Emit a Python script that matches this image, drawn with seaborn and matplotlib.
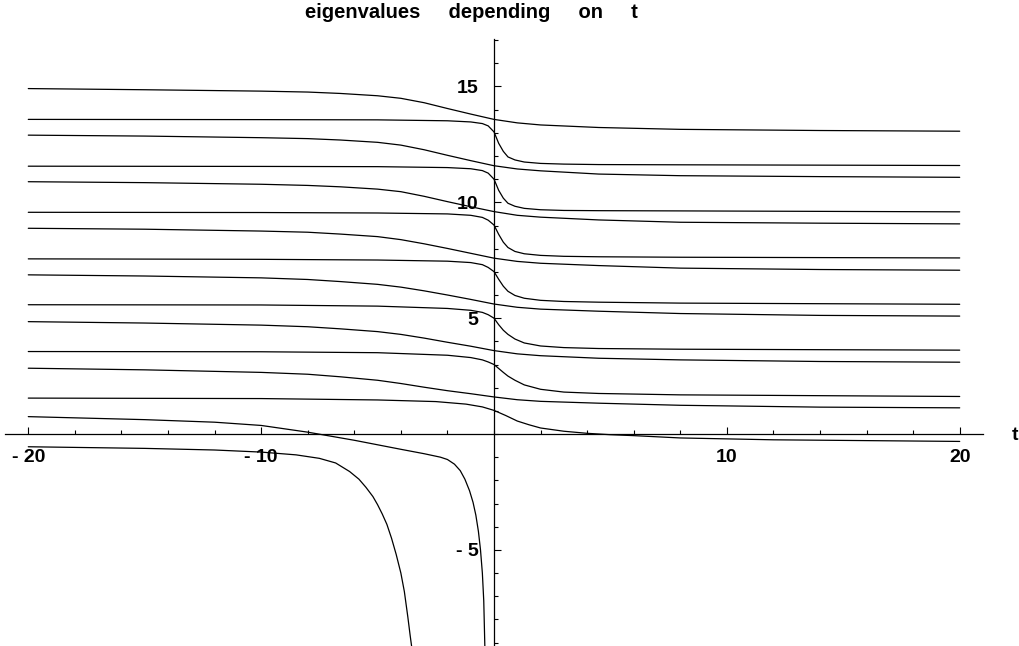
import numpy as np
import pandas as pd
import matplotlib
matplotlib.use("Agg")
import matplotlib.pyplot as plt
import seaborn as sns

# --- values ---
# slowly falling curves (broad step around t = -4 .. 0)
t_slow = [-20, -15, -10, -8, -6.6, -5, -4, -3, -2, -1, 0, 1, 2, 4.5, 8, 14, 20]
slow_a = [14.91, 14.86, 14.80, 14.76, 14.70, 14.60, 14.49, 14.30, 14.05, 13.81, 13.58, 13.43, 13.34, 13.23, 13.15, 13.10, 13.07]
slow_c = [12.90, 12.86, 12.79, 12.75, 12.69, 12.59, 12.47, 12.27, 12.03, 11.80, 11.58, 11.44, 11.36, 11.22, 11.15, 11.11, 11.08]
slow_e = [10.89, 10.85, 10.78, 10.73, 10.67, 10.57, 10.46, 10.26, 10.03, 9.81, 9.60, 9.44, 9.36, 9.24, 9.14, 9.10, 9.07]
slow_g = [8.88, 8.84, 8.76, 8.71, 8.63, 8.52, 8.39, 8.21, 8.01, 7.80, 7.59, 7.45, 7.37, 7.27, 7.16, 7.10, 7.07]
slow_i = [6.87, 6.82, 6.74, 6.67, 6.58, 6.46, 6.34, 6.18, 6.00, 5.81, 5.61, 5.47, 5.39, 5.30, 5.20, 5.12, 5.09]
slow_k = [4.85, 4.79, 4.70, 4.63, 4.54, 4.42, 4.30, 4.14, 3.96, 3.79, 3.60, 3.46, 3.38, 3.27, 3.20, 3.13, 3.10]
slow_m = [2.84, 2.77, 2.66, 2.58, 2.47, 2.32, 2.18, 2.02, 1.87, 1.74, 1.60, 1.48, 1.41, 1.33, 1.24, 1.16, 1.13]

# curves with a sharp drop just after t = 0
t_fast = [-20, -10, -5, -2, -1, -0.5, -0.25, 0, 0.2, 0.4, 0.6, 0.9, 1.3, 2, 3, 4.5, 8, 20]
fast_b = [13.58, 13.57, 13.56, 13.52, 13.47, 13.40, 13.30, 13.04, 12.55, 12.20, 11.96, 11.83, 11.74, 11.68, 11.65, 11.63, 11.62, 11.59]
fast_d = [11.56, 11.55, 11.54, 11.50, 11.45, 11.37, 11.26, 11.00, 10.52, 10.18, 9.96, 9.83, 9.74, 9.68, 9.65, 9.64, 9.63, 9.59]
fast_f = [9.57, 9.56, 9.54, 9.50, 9.44, 9.35, 9.23, 9.02, 8.62, 8.28, 8.05, 7.88, 7.78, 7.71, 7.67, 7.65, 7.63, 7.60]
fast_h = [7.56, 7.54, 7.51, 7.46, 7.40, 7.31, 7.19, 7.01, 6.68, 6.38, 6.16, 5.98, 5.86, 5.77, 5.72, 5.69, 5.65, 5.60]
fast_j = [5.58, 5.57, 5.52, 5.42, 5.34, 5.25, 5.15, 5.00, 4.72, 4.48, 4.30, 4.10, 3.93, 3.80, 3.73, 3.69, 3.66, 3.62]
fast_l = [3.56, 3.55, 3.51, 3.40, 3.30, 3.20, 3.11, 3.00, 2.83, 2.66, 2.50, 2.32, 2.12, 1.93, 1.81, 1.75, 1.69, 1.62]

# lowest curve that survives to t = 20
t_low = [-20, -10, -5, -2.5, -1.2, -0.5, 0, 0.5, 1, 1.5, 2, 3, 4, 5, 6, 8, 12, 20]
low_n = [1.55, 1.53, 1.47, 1.40, 1.29, 1.17, 1.02, 0.80, 0.56, 0.40, 0.26, 0.12, 0.03, -0.03, -0.07, -0.17, -0.25, -0.32]

# the two curves diving to -infinity
t_dive1 = [-20, -15, -12, -10, -8, -6, -4, -3, -2.3, -2.0, -1.7, -1.45, -1.25, -1.05, -0.9, -0.78, -0.67, -0.58, -0.5, -0.44, -0.39]
dive1 = [0.75, 0.62, 0.51, 0.37, 0.08, -0.27, -0.66, -0.85, -1.0, -1.10, -1.30, -1.58, -1.95, -2.45, -2.95, -3.5, -4.2, -5.0, -6.0, -7.2, -9.3]
t_dive2 = [-20, -15, -12, -10, -8.5, -7.5, -6.8, -6.2, -5.8, -5.5, -5.2, -5.0, -4.8, -4.6, -4.4, -4.2, -4.0, -3.85, -3.7, -3.6, -3.52]
dive2 = [-0.55, -0.62, -0.69, -0.78, -0.90, -1.05, -1.25, -1.62, -1.95, -2.3, -2.7, -3.05, -3.45, -3.9, -4.5, -5.2, -6.0, -6.8, -7.9, -8.7, -9.3]

x_ticks = [-20, -10, 10, 20]
x_ticklabels = ["- 20", "- 10", "10", "20"]
y_ticks = [-5, 5, 10, 15]
y_ticklabels = ["- 5", "5", "10", "15"]

# --- long table for seaborn ---
frames = []
for name, tt, vv in [("a", t_slow, slow_a), ("c", t_slow, slow_c), ("e", t_slow, slow_e),
                     ("g", t_slow, slow_g), ("i", t_slow, slow_i), ("k", t_slow, slow_k),
                     ("m", t_slow, slow_m),
                     ("b", t_fast, fast_b), ("d", t_fast, fast_d), ("f", t_fast, fast_f),
                     ("h", t_fast, fast_h), ("j", t_fast, fast_j), ("l", t_fast, fast_l),
                     ("n", t_low, low_n), ("o", t_dive1, dive1), ("p", t_dive2, dive2)]:
    frames.append(pd.DataFrame({"t": tt, "value": vv, "curve": name}))
df = pd.concat(frames, ignore_index=True)

sns.set_style("white")
plt.rcParams['font.family'] = ['Liberation Sans', 'DejaVu Sans']

fig = plt.figure(figsize=(10.2, 6.46), dpi=100)
ax = fig.add_axes([5 / 1020, 0, 978 / 1020, 607 / 646])

sns.lineplot(data=df, x="t", y="value", units="curve", estimator=None, sort=False,
             color="black", lw=0.9, ax=ax, legend=False)

ax.set_xlim(-21, 21)
ax.set_ylim(-9.15, 17.05)
ax.set_xlabel("")
ax.set_ylabel("")

for side in ["top", "right"]:
    ax.spines[side].set_visible(False)
ax.spines["left"].set_position(("data", 0))
ax.spines["bottom"].set_position(("data", 0))
for side in ["left", "bottom"]:
    ax.spines[side].set_color("black")
    ax.spines[side].set_linewidth(0.9)

ax.set_xticks(x_ticks)
ax.set_xticklabels(x_ticklabels)
ax.set_xticks(np.arange(-20, 21, 2), minor=True)
ax.set_yticks(y_ticks)
ax.set_yticklabels(y_ticklabels)
ax.set_yticks(np.arange(-9, 18, 1), minor=True)

ax.tick_params(axis="both", which="both", bottom=True, left=True, top=False, right=False)
ax.tick_params(axis="both", which="major", direction="in", length=5, width=0.8,
               color="black", labelcolor="black", labelsize=14, pad=11)
ax.tick_params(axis="both", which="minor", direction="in", length=2.8, width=0.8,
               color="black")
for lab in ax.get_xticklabels() + ax.get_yticklabels():
    lab.set_fontweight("bold")

fig.text(471 / 1020, 1 - 12 / 646, "eigenvalues     depending     on     t", ha="center", va="center",
         fontsize=14.5, fontweight="bold", color="black")
fig.text(1015 / 1020, 1 - 435 / 646, "t", ha="center", va="center",
         fontsize=14, fontweight="bold", color="black")

fig.savefig("out.png", dpi=100)
